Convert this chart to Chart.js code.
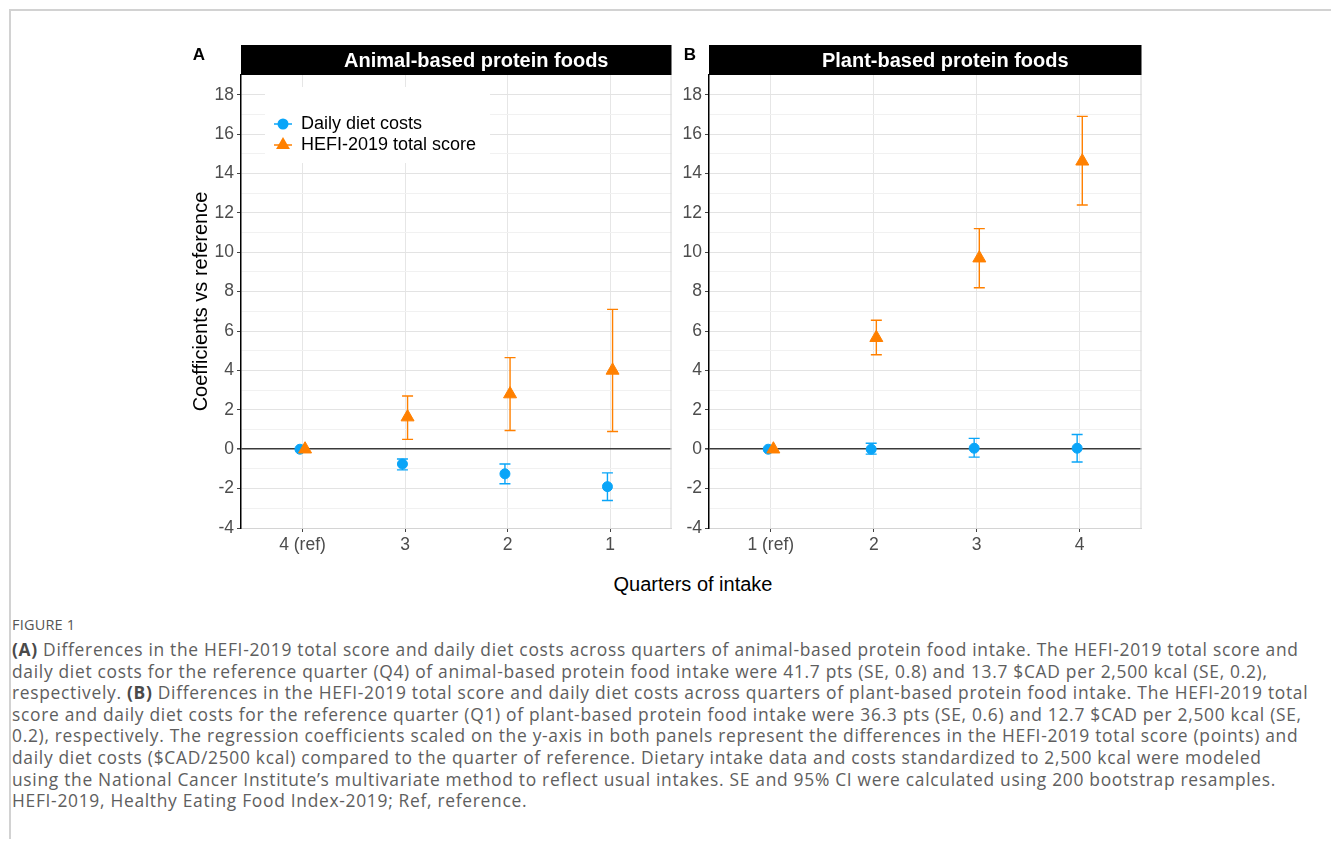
<!DOCTYPE html>
<html>
<head>
<meta charset="utf-8">
<script src="https://cdn.jsdelivr.net/npm/chart.js"></script>
<style>
  html, body { margin: 0; padding: 0; background: #fff; overflow: hidden; }
  body { width: 1331px; height: 847px; position: relative; font-family: "Liberation Sans", Arial, sans-serif; }
  #frame { position: absolute; left: 9px; top: 9px; width: 1330px; height: 828px; border-left: 2px solid #d2d2d2; border-top: 2px solid #d2d2d2; }
  canvas { position: absolute; }
  #xTitle { position: absolute; left: 493px; top: 572px; width: 400px; text-align: center; font-size: 20px; line-height: 24px; color: #000; }
  #figLabel { position: absolute; left: 12px; top: 615px; font-family: "Open Sans", sans-serif; font-size: 14.5px; color: #555; letter-spacing: 0.2px; }
  #caption { position: absolute; left: 12px; top: 639px; font-family: "Open Sans", sans-serif; font-size: 17.4px; line-height: 21.6px; letter-spacing: 0.7px; color: #5e5e5e; white-space: nowrap; }
  #caption b { color: #4a4a4a; }
</style>
</head>
<body>
<div id="frame"></div>
<canvas id="chartA" width="495" height="520" style="left:185px; top:40px;"></canvas>
<canvas id="chartB" width="470" height="520" style="left:680px; top:40px;"></canvas>
<div id="xTitle">Quarters of intake</div>
<div id="figLabel">FIGURE 1</div>
<div id="caption"><b>(A)</b> Differences in the HEFI-2019 total score and daily diet costs across quarters of animal-based protein food intake. The HEFI-2019 total score and<br>daily diet costs for the reference quarter (Q4) of animal-based protein food intake were 41.7 pts (SE, 0.8) and 13.7 $CAD per 2,500 kcal (SE, 0.2),<br>respectively. <b>(B)</b> Differences in the HEFI-2019 total score and daily diet costs across quarters of plant-based protein food intake. The HEFI-2019 total<br>score and daily diet costs for the reference quarter (Q1) of plant-based protein food intake were 36.3 pts (SE, 0.6) and 12.7 $CAD per 2,500 kcal (SE,<br>0.2), respectively. The regression coefficients scaled on the y-axis in both panels represent the differences in the HEFI-2019 total score (points) and<br>daily diet costs ($CAD/2500 kcal) compared to the quarter of reference. Dietary intake data and costs standardized to 2,500 kcal were modeled<br>using the National Cancer Institute’s multivariate method to reflect usual intakes. SE and 95% CI were calculated using 200 bootstrap resamples.<br>HEFI-2019, Healthy Eating Food Index-2019; Ref, reference.</div>

<script>
"use strict";

// categories
const animalLabels = ["4 (ref)", "3", "2", "1"];
const plantLabels = ["1 (ref)", "2", "3", "4"];

// y axis
const yMajorTicks = [-4, -2, 0, 2, 4, 6, 8, 10, 12, 14, 16, 18];
const yMinorTicks = [-3, -1, 1, 3, 5, 7, 9, 11, 13, 15, 17];
const yMin = -4;
const yMax = 19;

// A: animal-based protein foods
const animalCost = [0, -0.75, -1.25, -1.9];
const animalCostLow = [0, -1.05, -1.75, -2.6];
const animalCostHigh = [0, -0.5, -0.75, -1.2];
const animalHefi = [0, 1.63, 2.8, 4.0];
const animalHefiLow = [0, 0.5, 0.95, 0.9];
const animalHefiHigh = [0, 2.7, 4.65, 7.1];

// B: plant-based protein foods
const plantCost = [0, 0, 0.05, 0.05];
const plantCostLow = [0, -0.25, -0.4, -0.65];
const plantCostHigh = [0, 0.3, 0.55, 0.75];
const plantHefi = [0, 5.66, 9.7, 14.62];
const plantHefiLow = [0, 4.8, 8.2, 12.4];
const plantHefiHigh = [0, 6.55, 11.2, 16.9];

const BLUE = "#0AA5F8";
const ORANGE = "#FF8000";
const FONT = "'Liberation Sans', Arial, sans-serif";

function drawMarker(ctx, style, x, y, r, color) {
  ctx.fillStyle = color;
  ctx.beginPath();
  if (style === "triangle") {
    const dx = r * Math.sin(Math.PI * 2 / 3);
    ctx.moveTo(x, y - r);
    ctx.lineTo(x + dx, y + r / 2);
    ctx.lineTo(x - dx, y + r / 2);
    ctx.closePath();
  } else {
    ctx.arc(x, y, r, 0, Math.PI * 2);
  }
  ctx.fill();
}

const panelPlugin = {
  id: "panel",
  beforeDatasetsDraw(chart, args, opts) {
    const ctx = chart.ctx;
    const area = chart.chartArea;
    const xs = chart.scales.x;
    const ys = chart.scales.y;
    ctx.save();

    // right border of the panel
    ctx.strokeStyle = "#d4d4d4";
    ctx.lineWidth = 1;
    ctx.beginPath();
    ctx.moveTo(area.right - 0.5, area.top);
    ctx.lineTo(area.right - 0.5, area.bottom);
    ctx.stroke();

    if (opts.showLegend) {
      ctx.fillStyle = "#fff";
      ctx.fillRect(area.left + 24, area.top + 12, 225, 76);
      chart.data.datasets.forEach((ds, k) => {
        const cx = area.left + 42;
        const cy = area.top + 49 + k * 21;
        ctx.strokeStyle = ds.borderColor;
        ctx.lineWidth = 1.5;
        ctx.beginPath();
        ctx.moveTo(cx - 9, cy);
        ctx.lineTo(cx + 9, cy);
        ctx.stroke();
        drawMarker(ctx, ds.pointStyle, cx, cy, ds.pointRadius + 0.5, ds.backgroundColor);
        ctx.fillStyle = "#000";
        ctx.font = "18px " + FONT;
        ctx.textAlign = "left";
        ctx.textBaseline = "middle";
        ctx.fillText(ds.label, area.left + 60, cy);
      });
    }

    // error bars
    chart.data.datasets.forEach((ds) => {
      ctx.strokeStyle = ds.borderColor;
      ctx.lineWidth = 1.4;
      ds.data.forEach((p, i) => {
        const lo = ds.errLow[i];
        const hi = ds.errHigh[i];
        if (lo === hi) return;
        const x = xs.getPixelForValue(p.x);
        const y1 = ys.getPixelForValue(lo);
        const y2 = ys.getPixelForValue(hi);
        ctx.beginPath();
        ctx.moveTo(x, y1);
        ctx.lineTo(x, y2);
        ctx.moveTo(x - 5.5, y1);
        ctx.lineTo(x + 5.5, y1);
        ctx.moveTo(x - 5.5, y2);
        ctx.lineTo(x + 5.5, y2);
        ctx.stroke();
      });
    });
    ctx.restore();
  },
  afterDraw(chart, args, opts) {
    const ctx = chart.ctx;
    const area = chart.chartArea;
    ctx.save();
    // strip with panel title (title sits a bit right of centre, as in the figure)
    ctx.fillStyle = "#000";
    ctx.fillRect(area.left, area.top - 30, area.right - area.left, 30);
    ctx.fillStyle = "#fff";
    ctx.font = "bold 20px " + FONT;
    ctx.textAlign = "center";
    ctx.textBaseline = "middle";
    ctx.fillText(opts.strip, (area.left + area.right) / 2 + 20, area.top - 14);
    // panel letter
    ctx.fillStyle = "#000";
    ctx.font = "bold 17px " + FONT;
    ctx.fillText(opts.letter, opts.letterX, 15);
    ctx.restore();
  },
};

function makePanel(canvasId, labels, cost, costLow, costHigh, hefi, hefiLow, hefiHigh, cfg) {
  const allTicks = yMajorTicks.concat(yMinorTicks).sort((a, b) => a - b);
  return new Chart(document.getElementById(canvasId).getContext("2d"), {
    type: "scatter",
    data: {
      datasets: [
        {
          label: "Daily diet costs",
          data: cost.map((v, i) => ({ x: i - 0.025, y: v })),
          errLow: costLow,
          errHigh: costHigh,
          pointStyle: "circle",
          pointRadius: 5,
          borderWidth: 1,
          backgroundColor: BLUE,
          borderColor: BLUE,
          order: 2,
        },
        {
          label: "HEFI-2019 total score",
          data: hefi.map((v, i) => ({ x: i + 0.025, y: v })),
          errLow: hefiLow,
          errHigh: hefiHigh,
          pointStyle: "triangle",
          pointRadius: 7.5,
          borderWidth: 1,
          backgroundColor: ORANGE,
          borderColor: ORANGE,
          order: 1,
        },
      ],
    },
    options: {
      responsive: false,
      animation: false,
      events: [],
      layout: { padding: { top: 35, right: cfg.rightPad, left: 0, bottom: 0 } },
      plugins: {
        legend: { display: false },
        tooltip: { enabled: false },
        panel: cfg.panel,
      },
      scales: {
        x: {
          type: "linear",
          min: -0.6,
          max: labels.length - 0.4,
          afterBuildTicks: (s) => {
            s.ticks = labels.map((_, i) => ({ value: i }));
          },
          afterFit: (s) => {
            s.height = 32;
          },
          ticks: {
            callback: (v) => labels[v],
            autoSkip: false,
            maxRotation: 0,
            padding: 3,
            color: "#4d4d4d",
            font: { size: 17.5, family: FONT },
          },
          grid: { color: "#e6e6e6", lineWidth: 1, tickColor: "#444", tickLength: 4 },
          border: { color: "#d4d4d4", width: 1 },
        },
        y: {
          min: yMin,
          max: yMax,
          afterBuildTicks: (s) => {
            s.ticks = allTicks.map((v) => ({ value: v }));
          },
          afterFit: (s) => {
            s.width = cfg.yWidth;
          },
          ticks: {
            callback: (v) => (yMajorTicks.includes(v) ? String(v) : ""),
            autoSkip: false,
            padding: 3,
            color: "#4d4d4d",
            font: { size: 17.5, family: FONT },
          },
          grid: {
            color: (c) => {
              const v = c.tick ? c.tick.value : null;
              if (v === 0) return "#3a3a3a";
              if (v > 18) return "rgba(0,0,0,0)";
              return yMajorTicks.includes(v) ? "#e3e3e3" : "#f1f1f1";
            },
            lineWidth: (c) => (c.tick && c.tick.value === 0 ? 1.6 : 1),
            tickColor: (c) => (c.tick && yMajorTicks.includes(c.tick.value) ? "#444" : "rgba(0,0,0,0)"),
            tickLength: 4,
          },
          border: { color: "#000", width: 1.5 },
          title: {
            display: cfg.yTitle !== "",
            text: cfg.yTitle,
            color: "#000",
            padding: { top: 4, bottom: 0 },
            font: { size: 20, family: FONT },
          },
        },
      },
    },
    plugins: [panelPlugin],
  });
}

makePanel("chartA", animalLabels, animalCost, animalCostLow, animalCostHigh, animalHefi, animalHefiLow, animalHefiHigh, {
  rightPad: 4,
  yWidth: 56,
  yTitle: "Coefficients vs reference",
  panel: { strip: "Animal-based protein foods", letter: "A", letterX: 14, showLegend: true },
});

makePanel("chartB", plantLabels, plantCost, plantCostLow, plantCostHigh, plantHefi, plantHefiLow, plantHefiHigh, {
  rightPad: 6,
  yWidth: 29,
  yTitle: "",
  panel: { strip: "Plant-based protein foods", letter: "B", letterX: 10, showLegend: false },
});
</script>
</body>
</html>
